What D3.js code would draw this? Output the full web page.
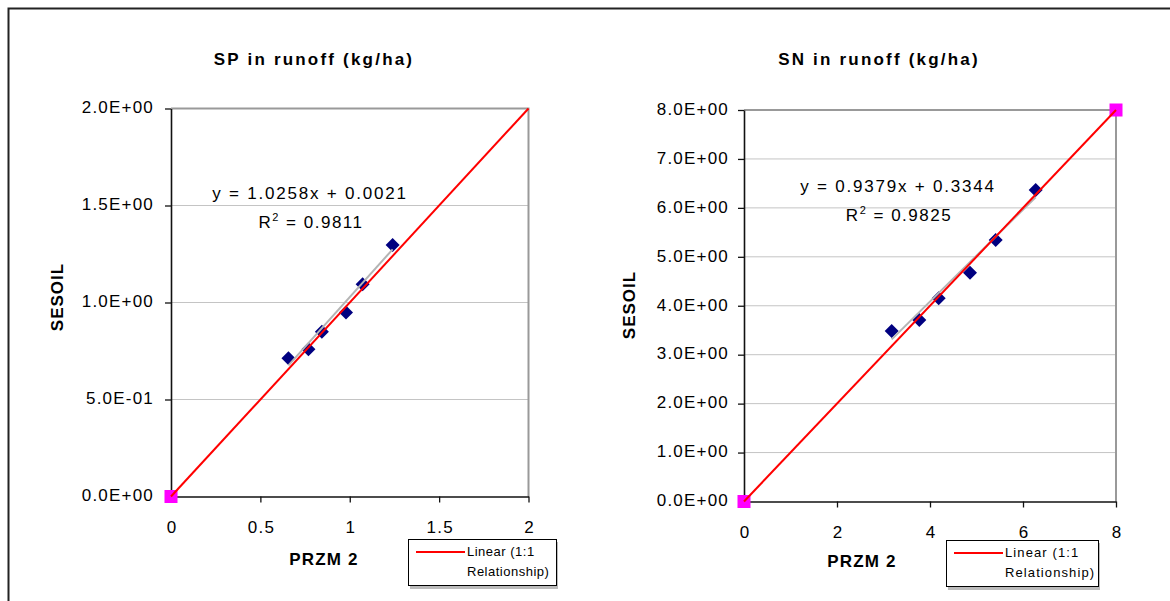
<!DOCTYPE html>
<html>
<head>
<meta charset="utf-8">
<script src="https://d3js.org/d3.v7.min.js"></script>
<style>
body { margin: 0; background: #fff; }
svg text { font-family: "Liberation Sans", Arial, sans-serif; fill: #000; }
</style>
</head>
<body>
<svg class="chart"></svg>
<script>
// SP panel
var spTitle = "SP in runoff (kg/ha)";
var spPrzm = [0.657, 0.769, 0.844, 0.979, 1.072, 1.240];
var spSesoil = [0.712, 0.759, 0.849, 0.949, 1.094, 1.296];
var spFit = [1.0258, 0.0021];
var spEquation = ["y = 1.0258x + 0.0021", "0.9811"];
var spTicksX = [0, 0.5, 1, 1.5, 2];
var spTicksY = [0, 0.5, 1, 1.5, 2];
var spOneToOne = [0, 2];
var spRefPoints = [0];

// SN panel
var snTitle = "SN in runoff (kg/ha)";
var snPrzm = [3.176, 3.770, 4.187, 4.860, 5.413, 6.273];
var snSesoil = [3.484, 3.709, 4.152, 4.675, 5.343, 6.365];
var snFit = [0.9379, 0.3344];
var snEquation = ["y = 0.9379x + 0.3344", "0.9825"];
var snTicksX = [0, 2, 4, 6, 8];
var snTicksY = [0, 1, 2, 3, 4, 5, 6, 7, 8];
var snOneToOne = [0, 8];
var snRefPoints = [0, 8];

var legendText = ["Linear (1:1", "Relationship)"];

var makeTranslateString = function(x,y)
{
    return "translate("+x+","+y+")";
}

// Excel style 2.0E+00
var sci = function(v)
{
    if (v == 0) return "0.0E+00";
    var e = Math.floor(Math.log10(Math.abs(v)));
    var m = v / Math.pow(10, e);
    var s = e < 0 ? "-" : "+";
    var ea = Math.abs(e);
    return m.toFixed(1) + "E" + s + (ea < 10 ? "0" + ea : ea);
}

var svg = d3.select(".chart")
    .attr("width", 1170)
    .attr("height", 601);

// outer frame (runs off the page right/bottom)
svg.append("rect")
    .attr("x", 8.5).attr("y", 8.5)
    .attr("width", 1200).attr("height", 700)
    .attr("fill", "none")
    .attr("stroke", "#222")
    .attr("stroke-width", 2);

var drawPanel = function(p)
{
    var xScale = d3.scaleLinear().domain(p.xDomain).range([p.left, p.right]);
    var yScale = d3.scaleLinear().domain(p.yDomain).range([p.bottom, p.top]);
    var g = svg.append("g");

    // gridlines
    g.append("g").selectAll("line")
        .data(p.ticksY.slice(1, -1))
        .enter().append("line")
        .attr("x1", p.left).attr("x2", p.right)
        .attr("y1", function(d){ return yScale(d); })
        .attr("y2", function(d){ return yScale(d); })
        .attr("stroke", "#c4c4c4")
        .attr("stroke-width", 1);

    // gray plot border top and right
    g.append("path")
        .attr("d", "M"+p.left+","+p.top+"H"+p.right+"V"+p.bottom)
        .attr("fill", "none")
        .attr("stroke", "#999")
        .attr("stroke-width", 2);

    var yAxis = d3.axisLeft(yScale)
        .tickValues(p.ticksY)
        .tickSize(6)
        .tickSizeOuter(0)
        .tickPadding(p.yPad)
        .tickFormat(sci);

    var xAxis = d3.axisBottom(xScale)
        .tickValues(p.ticksX)
        .tickSize(6)
        .tickSizeOuter(0)
        .tickPadding(18)
        .tickFormat(d3.format("~g"));

    var ya = g.append("g")
        .attr("transform", makeTranslateString(p.left, 0))
        .call(yAxis);
    ya.selectAll("text").attr("dy", "0.25em");

    var xa = g.append("g")
        .attr("transform", makeTranslateString(0, p.bottom))
        .call(xAxis);
    xa.selectAll("text").attr("dx", "0.6px");

    g.selectAll(".domain").attr("stroke", "#111").attr("stroke-width", 1.6);
    g.selectAll(".tick line").attr("stroke", "#111").attr("stroke-width", 1.3);
    g.selectAll(".tick text")
        .style("font-size", "17px")
        .style("letter-spacing", "1.2px")
        .style("font-family", "'Liberation Sans', Arial, sans-serif")
        .attr("fill", "#000");

    // data points
    g.append("g").selectAll("path")
        .data(p.xs)
        .enter().append("path")
        .attr("d", d3.symbol(d3.symbolSquare, 98))
        .attr("transform", function(d, i){
            return makeTranslateString(xScale(d), yScale(p.ys[i])) + " rotate(45)";
        })
        .attr("fill", "#000080");

    // trend line
    var xmin = d3.min(p.xs), xmax = d3.max(p.xs);
    g.append("line")
        .attr("x1", xScale(xmin)).attr("y1", yScale(p.fit[0]*xmin + p.fit[1]))
        .attr("x2", xScale(xmax)).attr("y2", yScale(p.fit[0]*xmax + p.fit[1]))
        .attr("stroke", "#b4b4b4")
        .attr("stroke-width", 2);

    // 1:1 reference markers
    g.append("g").selectAll("rect")
        .data(p.refPoints)
        .enter().append("rect")
        .attr("x", function(d){ return xScale(d) - 6.5; })
        .attr("y", function(d){ return yScale(d) - 6.5; })
        .attr("width", 13).attr("height", 13)
        .attr("fill", "#ff00ff");

    // 1:1 line
    g.append("line")
        .attr("x1", xScale(p.oneToOne[0])).attr("y1", yScale(p.oneToOne[0]))
        .attr("x2", xScale(p.oneToOne[1])).attr("y2", yScale(p.oneToOne[1]))
        .attr("stroke", "#ff0000")
        .attr("stroke-width", 2);

    // labels
    g.append("text")
        .text(p.title)
        .attr("x", p.titleX).attr("y", 65)
        .attr("text-anchor", "middle")
        .style("font-size", "17px").style("font-weight", "bold")
        .style("letter-spacing", "2.2px");

    g.append("text")
        .text("PRZM 2")
        .attr("x", p.xLabelX).attr("y", p.xLabelY)
        .attr("text-anchor", "middle")
        .style("font-size", "17px").style("font-weight", "bold")
        .style("letter-spacing", "1.2px");

    g.append("g")
        .attr("transform", makeTranslateString(p.yLabelX, p.yLabelY))
        .append("text")
        .text("SESOIL")
        .attr("text-anchor", "middle")
        .attr("transform", "rotate(-90)")
        .style("font-size", "17px").style("font-weight", "bold")
        .style("letter-spacing", "1px");

    g.append("text")
        .text(p.equation[0])
        .attr("x", p.eqX).attr("y", p.eqY)
        .attr("text-anchor", "middle")
        .style("font-size", "17px")
        .style("letter-spacing", "1.8px");

    var r2 = g.append("text")
        .attr("x", p.eqX + 1).attr("y", p.eqY + 29)
        .attr("text-anchor", "middle")
        .style("font-size", "17px")
        .style("letter-spacing", "1.5px");
    r2.append("tspan").text("R");
    r2.append("tspan").text("2").attr("dy", -7).style("font-size", "11px");
    r2.append("tspan").text(" = " + p.equation[1]).attr("dy", 7);

    // legend
    var lg = g.append("g").attr("transform", makeTranslateString(p.legX, p.legY));
    lg.append("rect")
        .attr("x", 2).attr("y", 3)
        .attr("width", p.legW).attr("height", 47)
        .attr("fill", "#bbb");
    lg.append("rect")
        .attr("x", 0.5).attr("y", 0.5)
        .attr("width", p.legW).attr("height", 46)
        .attr("fill", "#fff")
        .attr("stroke", "#000")
        .attr("stroke-width", 1);
    lg.append("line")
        .attr("x1", 8).attr("x2", 57)
        .attr("y1", 13).attr("y2", 13)
        .attr("stroke", "#ff0000")
        .attr("stroke-width", 2);
    lg.append("text").text(legendText[0])
        .attr("x", 59).attr("y", 17)
        .style("font-size", "13px").style("letter-spacing", p.legLs);
    lg.append("text").text(legendText[1])
        .attr("x", 59).attr("y", 37)
        .style("font-size", "13px").style("letter-spacing", p.legLs);
}

drawPanel({
    title: spTitle, xs: spPrzm, ys: spSesoil, fit: spFit, equation: spEquation,
    ticksX: spTicksX, ticksY: spTicksY, oneToOne: spOneToOne, refPoints: spRefPoints,
    xDomain: [0, 2], yDomain: [0, 2],
    left: 171, right: 528.5, top: 108.5, bottom: 496.5,
    yPad: 11, titleX: 314, xLabelX: 324, xLabelY: 565,
    yLabelX: 63, yLabelY: 297, eqX: 310, eqY: 199,
    legX: 408, legY: 539, legW: 148, legLs: "0.5px"
});

drawPanel({
    title: snTitle, xs: snPrzm, ys: snSesoil, fit: snFit, equation: snEquation,
    ticksX: snTicksX, ticksY: snTicksY, oneToOne: snOneToOne, refPoints: snRefPoints,
    xDomain: [0, 8], yDomain: [0, 8],
    left: 744, right: 1116, top: 110, bottom: 501.5,
    yPad: 9, titleX: 879, xLabelX: 862, xLabelY: 567,
    yLabelX: 635, yLabelY: 305, eqX: 898, eqY: 192,
    legX: 946, legY: 540, legW: 152, legLs: "1.1px"
});
</script>
</body>
</html>
